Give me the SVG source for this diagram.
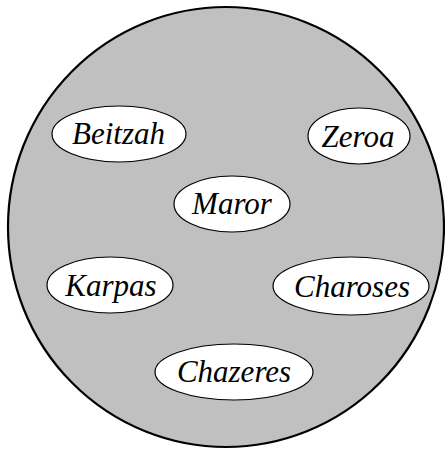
<svg xmlns="http://www.w3.org/2000/svg" width="445" height="449" viewBox="0 0 445 449">
<style>
.plate{fill:#c0c0c0;stroke:#000;stroke-width:2.2}
.node ellipse{fill:#fff;stroke:#000;stroke-width:1.2}
.node text{font-family:"Liberation Serif","DejaVu Serif",serif;font-style:italic;font-size:31px;fill:#000;text-anchor:middle}
</style>
<rect width="445" height="449" fill="#fff"/>
<ellipse class="plate" cx="226" cy="227" rx="218" ry="220"/>
<g id="connectors"/>
<g id="beitzah" class="node"><ellipse cx="119" cy="134" rx="67" ry="28"/><text x="118.5" y="144">Beitzah</text></g>
<g id="zeroa" class="node"><ellipse cx="359" cy="136" rx="51" ry="28"/><text x="358" y="147">Zeroa</text></g>
<g id="maror" class="node"><ellipse cx="232" cy="204" rx="58" ry="28"/><text x="232" y="214">Maror</text></g>
<g id="karpas" class="node"><ellipse cx="110" cy="285" rx="63" ry="28"/><text x="111" y="296">Karpas</text></g>
<g id="charoses" class="node"><ellipse cx="351" cy="286" rx="78" ry="29"/><text x="352" y="297">Charoses</text></g>
<g id="chazeres" class="node"><ellipse cx="234" cy="372" rx="79" ry="28"/><text x="234" y="382">Chazeres</text></g>
</svg>
